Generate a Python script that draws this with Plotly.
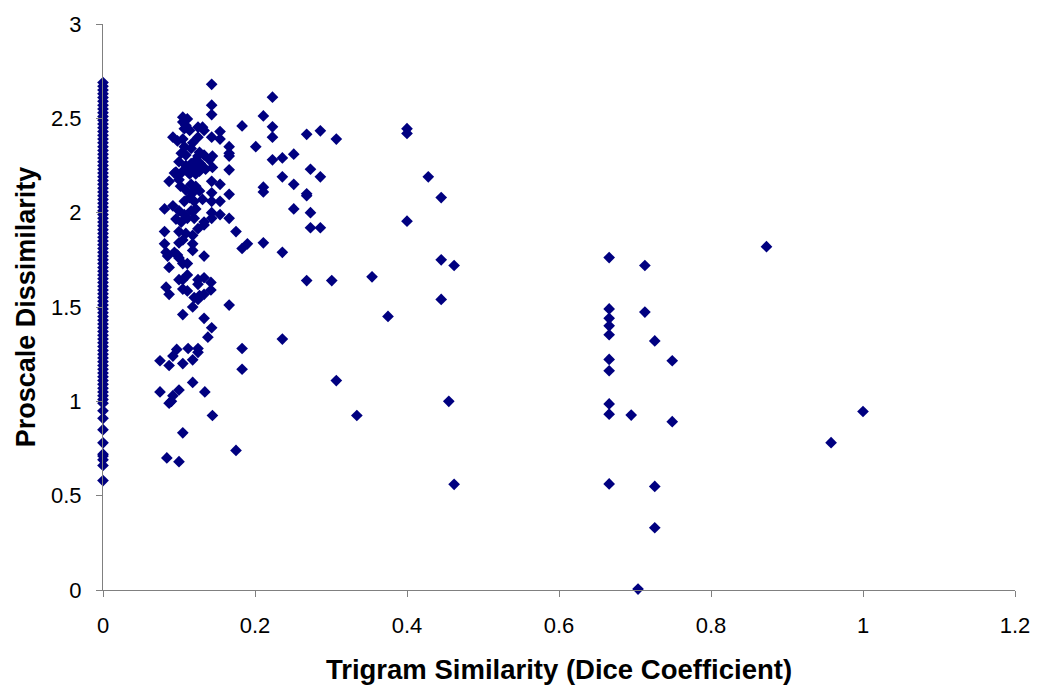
import plotly.graph_objects as go

# Points with zero trigram similarity (solid column at x = 0)
zero_sim_dissim = [0.58, 0.66, 0.69, 0.71, 0.72, 0.78, 0.85, 0.91, 0.95, 0.99,
                   1.01, 1.03, 1.05, 1.07, 1.09, 1.11, 1.13, 1.15, 1.17, 1.19,
                   1.21, 1.23, 1.25, 1.27, 1.29, 1.31, 1.33, 1.35, 1.37, 1.39,
                   1.41, 1.43, 1.45, 1.47, 1.49, 1.51, 1.53, 1.55, 1.57, 1.59,
                   1.61, 1.63, 1.65, 1.67, 1.69, 1.71, 1.73, 1.75, 1.77, 1.79,
                   1.81, 1.83, 1.85, 1.87, 1.89, 1.91, 1.93, 1.95, 1.97, 1.99,
                   2.01, 2.03, 2.05, 2.07, 2.09, 2.11, 2.13, 2.15, 2.17, 2.19,
                   2.21, 2.23, 2.25, 2.27, 2.29, 2.31, 2.33, 2.35, 2.37, 2.39,
                   2.41, 2.43, 2.45, 2.47, 2.49, 2.51, 2.53, 2.55, 2.57, 2.59,
                   2.61, 2.63, 2.65, 2.67, 2.69]

# Remaining points: trigram similarity (Dice) and proscale dissimilarity
sim = [0.143, 0.143, 0.143, 0.183, 0.105, 0.111, 0.105, 0.109, 0.107, 0.114,
       0.125, 0.131, 0.133, 0.125, 0.154, 0.154, 0.143, 0.092, 0.098, 0.105,
       0.118, 0.107, 0.116, 0.166, 0.166, 0.166, 0.103, 0.109, 0.127, 0.133,
       0.125, 0.140, 0.144,
       0.100, 0.116, 0.122, 0.131, 0.118, 0.111, 0.105, 0.127, 0.135, 0.114,
       0.122, 0.096, 0.100, 0.094, 0.109, 0.125, 0.120, 0.128, 0.112, 0.144,
       0.166, 0.087,
       0.100, 0.102, 0.109, 0.116, 0.122, 0.127, 0.118, 0.114, 0.107, 0.120, 0.131,
       0.143, 0.154, 0.143, 0.166, 0.154, 0.143,
       0.081, 0.092, 0.100, 0.107, 0.116, 0.122, 0.111, 0.120,
       0.143, 0.154, 0.143, 0.166, 0.133, 0.096, 0.103, 0.133, 0.125, 0.081,
       0.100, 0.109, 0.118, 0.105, 0.100, 0.118, 0.118, 0.081, 0.175, 0.183, 0.190,
       0.083, 0.085, 0.094, 0.098, 0.100, 0.105, 0.111, 0.133, 0.087,
       0.111, 0.100, 0.105, 0.125, 0.133, 0.125, 0.142,
       0.083, 0.087, 0.105, 0.111, 0.133, 0.127, 0.120, 0.125, 0.142,
       0.118, 0.166, 0.105, 0.133, 0.143, 0.138,
       0.183, 0.183, 0.075, 0.087, 0.092, 0.097, 0.112, 0.125, 0.125, 0.105,
       0.118, 0.118, 0.075, 0.100, 0.092, 0.090, 0.087, 0.134, 0.144, 0.105,
       0.175, 0.084, 0.100,
       0.223, 0.211, 0.223, 0.223, 0.268, 0.286, 0.307, 0.400, 0.400, 0.201,
       0.223, 0.236, 0.251, 0.273, 0.286, 0.236, 0.251, 0.211, 0.211, 0.268,
       0.268, 0.428, 0.445, 0.251, 0.273, 0.273, 0.286, 0.400, 0.211, 0.236,
       0.445, 0.462, 0.268, 0.301, 0.354, 0.445, 0.375, 0.236, 0.307, 0.455,
       0.334, 0.462,
       0.666, 0.713, 0.873, 0.666, 0.666, 0.666, 0.666, 0.713, 0.726, 0.666,
       0.666, 0.749, 0.666, 0.666, 0.695, 0.749, 1.000, 0.958, 0.666, 0.726,
       0.726, 0.704]

dissim = [2.68, 2.57, 2.52, 2.46, 2.506, 2.497, 2.48, 2.462, 2.445, 2.436,
          2.453, 2.453, 2.436, 2.40, 2.43, 2.39, 2.40, 2.40, 2.38, 2.39,
          2.37, 2.35, 2.34, 2.35, 2.315, 2.30, 2.315, 2.305, 2.32, 2.305,
          2.30, 2.28, 2.30,
          2.27, 2.26, 2.25, 2.245, 2.24, 2.23, 2.22, 2.22, 2.23, 2.205,
          2.205, 2.215, 2.20, 2.21, 2.25, 2.235, 2.27, 2.26, 2.215, 2.24,
          2.227, 2.166,
          2.175, 2.14, 2.12, 2.15, 2.14, 2.115, 2.105, 2.08, 2.06, 2.06, 2.07,
          2.166, 2.15, 2.105, 2.097, 2.06, 2.06,
          2.02, 2.036, 2.01, 1.99, 2.01, 2.02, 1.97, 1.97,
          2.00, 1.99, 1.97, 1.97, 1.95, 1.966, 1.95, 1.935, 1.915, 1.90,
          1.90, 1.89, 1.88, 1.855, 1.84, 1.835, 1.80, 1.835, 1.90, 1.81, 1.835,
          1.79, 1.77, 1.79, 1.775, 1.76, 1.73, 1.73, 1.77, 1.71,
          1.67, 1.645, 1.645, 1.645, 1.655, 1.62, 1.63,
          1.605, 1.567, 1.595, 1.585, 1.567, 1.56, 1.55, 1.54, 1.59,
          1.50, 1.51, 1.46, 1.44, 1.39, 1.34,
          1.28, 1.17, 1.215, 1.19, 1.24, 1.275, 1.28, 1.28, 1.26, 1.20,
          1.22, 1.10, 1.05, 1.06, 1.03, 1.00, 0.99, 1.05, 0.925, 0.833,
          0.74, 0.70, 0.68,
          2.612, 2.513, 2.455, 2.40, 2.415, 2.434, 2.39, 2.445, 2.42, 2.35,
          2.28, 2.29, 2.31, 2.23, 2.19, 2.19, 2.15, 2.135, 2.11, 2.10,
          2.09, 2.19, 2.08, 2.02, 2.00, 1.92, 1.92, 1.955, 1.84, 1.79,
          1.75, 1.72, 1.64, 1.64, 1.66, 1.54, 1.45, 1.33, 1.11, 1.00,
          0.925, 0.56,
          1.762, 1.72, 1.82, 1.49, 1.44, 1.40, 1.353, 1.473, 1.32, 1.222,
          1.162, 1.215, 0.986, 0.932, 0.927, 0.892, 0.946, 0.781, 0.562, 0.549,
          0.33, 0.005]

x_ticks = [0, 0.2, 0.4, 0.6, 0.8, 1, 1.2]
x_tick_labels = ["0", "0.2", "0.4", "0.6", "0.8", "1", "1.2"]
y_ticks = [0, 0.5, 1, 1.5, 2, 2.5, 3]
y_tick_labels = ["0", "0.5", "1", "1.5", "2", "2.5", "3"]

all_x = [0.0] * len(zero_sim_dissim) + sim
all_y = zero_sim_dissim + dissim

FONT = "Liberation Sans, Arial, sans-serif"
AXIS_COLOR = "#808080"

fig = go.Figure(go.Scatter(
    x=all_x, y=all_y, mode="markers",
    marker=dict(symbol="diamond", size=9, color="#000080", line=dict(width=0)),
    cliponaxis=False, showlegend=False,
))

fig.update_layout(
    width=1042, height=692,
    margin=dict(l=103, r=24, t=17, b=100),
    paper_bgcolor="white", plot_bgcolor="white",
    font=dict(family=FONT, color="black", size=22),
)
fig.update_xaxes(
    range=[0, 1.2], tickvals=x_ticks, ticktext=x_tick_labels,
    showgrid=False, zeroline=False, showline=True, linecolor=AXIS_COLOR, linewidth=1,
    ticks="outside", ticklen=6, tickcolor=AXIS_COLOR, tickwidth=1,
    tickfont=dict(family=FONT, size=22, color="black"), ticklabelstandoff=10,
    title=dict(text="<b>Trigram Similarity (Dice Coefficient)</b>",
               font=dict(family=FONT, size=27.5, color="black"), standoff=22),
)
fig.update_yaxes(
    range=[0, 3], tickvals=y_ticks, ticktext=y_tick_labels,
    showgrid=False, zeroline=False, showline=True, linecolor=AXIS_COLOR, linewidth=1,
    ticks="outside", ticklen=6, tickcolor=AXIS_COLOR, tickwidth=1,
    tickfont=dict(family=FONT, size=22, color="black"), ticklabelstandoff=10,
    title=dict(text="<b>Proscale Dissimilarity</b>",
               font=dict(family=FONT, size=27, color="black"), standoff=7),
)

fig.write_html("out.html")
